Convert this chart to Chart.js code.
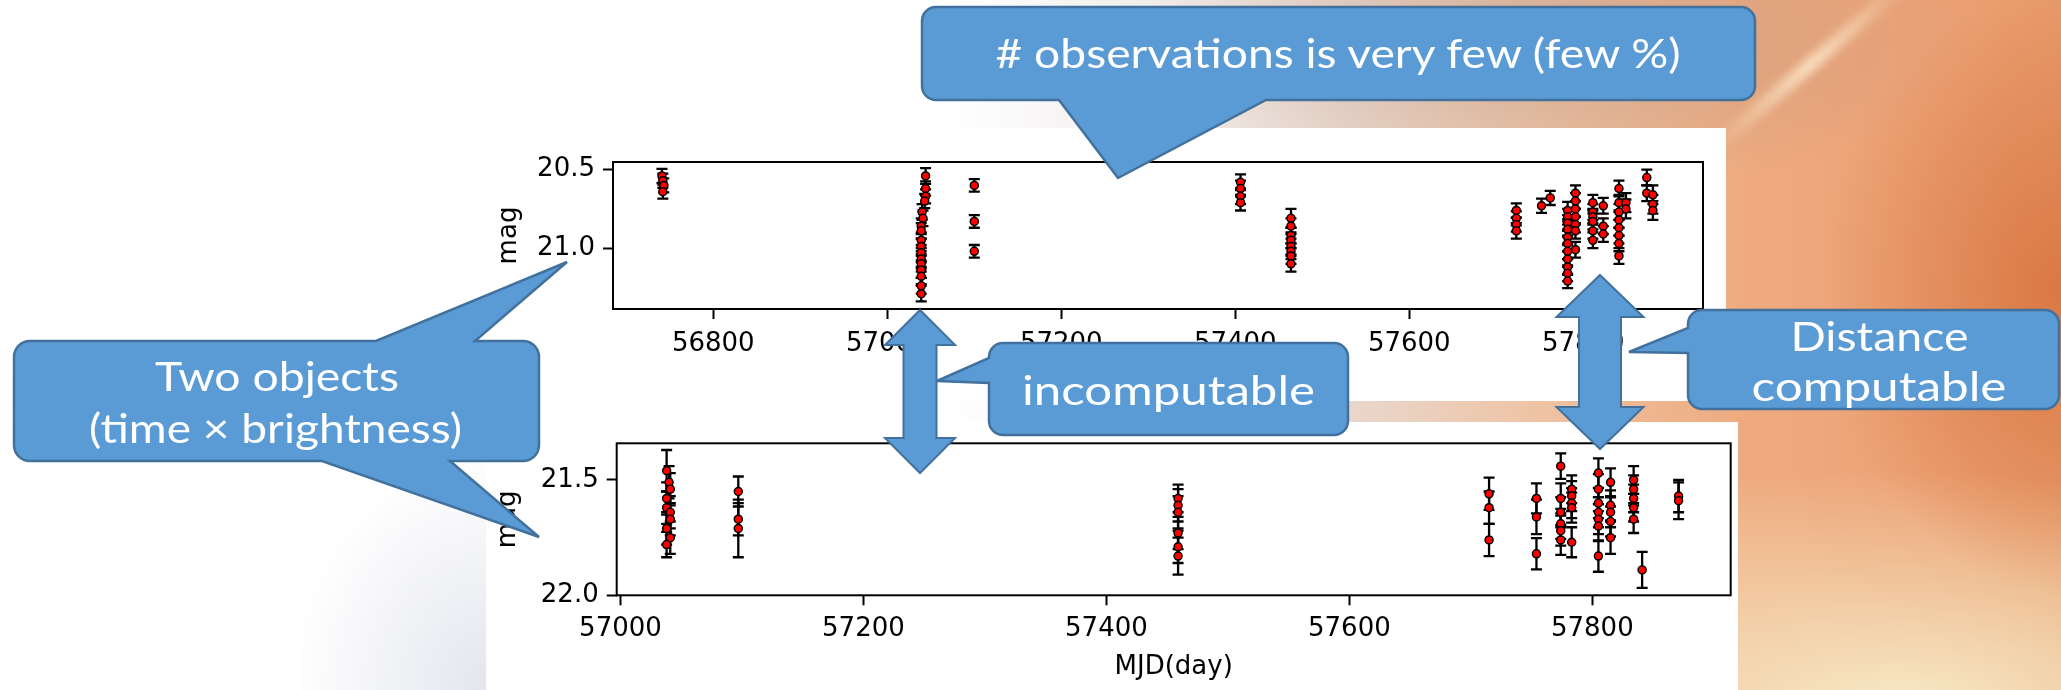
<!DOCTYPE html>
<html>
<head>
<meta charset="utf-8">
<script src="https://cdn.jsdelivr.net/npm/chart.js@4/dist/chart.umd.min.js"></script>
<style>
  html, body { margin: 0; padding: 0; width: 2061px; height: 690px; overflow: hidden; }
  body {
    position: relative;
    background:
      radial-gradient(ellipse 240px 300px at 2061px 290px, rgba(214,112,58,0.8), rgba(214,112,58,0) 100%),
      radial-gradient(ellipse 650px 230px at 1900px 700px, rgba(246,232,196,1), rgba(246,232,196,0) 100%),
      radial-gradient(ellipse 420px 150px at 1560px 40px, rgba(180,150,135,0.5), rgba(180,150,135,0) 100%),
      linear-gradient(to right, #ffffff 0px, #ffffff 950px, #f1edec 1150px, #e9d7cc 1350px, #efc2a2 1550px, #eeaa7e 1750px, #eba073 1950px, #e79a6a 2061px);
  }
  .shade { position: absolute; left: 300px; top: 440px; width: 190px; height: 250px;
    background: radial-gradient(ellipse 200px 240px at 190px 250px, rgba(226,228,236,0.95), rgba(226,228,236,0) 100%); }
  .streak { position: absolute; left: 1680px; top: 58px; width: 260px; height: 14px;
    transform: rotate(-41deg);
    background: linear-gradient(to right, rgba(255,232,195,0), rgba(255,236,205,0.8) 50%, rgba(255,232,195,0));
    filter: blur(4px); }
  .fig { position: absolute; background: #ffffff; }
  .fig canvas { display: block; }
  svg.overlay { position: absolute; left: 0; top: 0; pointer-events: none; }
  svg text { font-family: "Lato", "Open Sans", sans-serif; font-size: 40px; fill: #ffffff; }
</style>
</head>
<body>
<div class="shade"></div>
<div class="streak"></div>

<div class="fig" style="left:470px; top:128px; width:1256px; height:273px;">
  <canvas id="lcA" width="1256" height="273"></canvas>
</div>
<div class="fig" style="left:486px; top:422px; width:1252px; height:268px;">
  <canvas id="lcB" width="1252" height="268"></canvas>
</div>

<svg class="overlay" width="2061" height="690" viewBox="0 0 2061 690">
  <g fill="#5b9bd5" stroke="#41719c" stroke-width="2" stroke-linejoin="miter">
    <!-- double arrows between the two light curves -->
    <path d="M920,310 L955,345 L936.5,345 L936.5,438 L955,438 L920,473 L885,438 L903.5,438 L903.5,345 L885,345 Z"/>
    <path d="M1600,275 L1643.5,317 L1621,317 L1621,407 L1643.5,407 L1600,449 L1556.5,407 L1579,407 L1579,317 L1556.5,317 Z"/>
  </g>
  <g fill="#5b9bd5" stroke="#41719c" stroke-width="2.5" stroke-linejoin="miter">
    <!-- callouts -->
    <path d="M936,7 H1741 A14,14 0 0 1 1755,21 V86 A14,14 0 0 1 1741,100 H1266 L1118,178 L1059,100 H936 A14,14 0 0 1 922,86 V21 A14,14 0 0 1 936,7 Z"/>
    <path d="M30,341 H376 L567,262 L475,341 H523 A16,16 0 0 1 539,357 V445 A16,16 0 0 1 523,461 H450 L539,537 L322,461 H30 A16,16 0 0 1 14,445 V357 A16,16 0 0 1 30,341 Z"/>
    <path d="M1003,343 H1334 A14,14 0 0 1 1348,357 V421 A14,14 0 0 1 1334,435 H1003 A14,14 0 0 1 989,421 V383 L937,381 L989,358 V357 A14,14 0 0 1 1003,343 Z"/>
    <path d="M1702,310 H2045 A14,14 0 0 1 2059,324 V395 A14,14 0 0 1 2045,409 H1702 A14,14 0 0 1 1688,395 V353 L1629,352 L1688,328 V324 A14,14 0 0 1 1702,310 Z"/>
  </g>
  <g text-anchor="middle">
    <text x="1338" y="68" textLength="685" lengthAdjust="spacingAndGlyphs"># observations is very few (few %)</text>
    <text x="277" y="391" textLength="244" lengthAdjust="spacingAndGlyphs">Two objects</text>
    <text x="275.5" y="443" textLength="373" lengthAdjust="spacingAndGlyphs">(time × brightness)</text>
    <text x="1168.5" y="405" textLength="293" lengthAdjust="spacingAndGlyphs">incomputable</text>
    <text x="1879.5" y="351" textLength="178" lengthAdjust="spacingAndGlyphs">Distance</text>
    <text x="1879" y="401" textLength="255" lengthAdjust="spacingAndGlyphs">computable</text>
  </g>
</svg>

<script>
// ---- object A: observation epochs (MJD), magnitudes and 1-sigma errors ----
const objA_mjd = [
  56741, 56742, 56743, 56742,
  57044, 57044, 57044, 57043, 57040, 57041, 57039, 57039, 57039, 57039, 57039, 57039, 57039, 57039, 57039, 57039, 57039,
  57100, 57100, 57100,
  57406, 57406, 57406, 57406,
  57464, 57464, 57464, 57464, 57464, 57464, 57464, 57464,
  57723, 57723, 57723, 57723,
  57752,
  57762,
  57782, 57782, 57782, 57782, 57782, 57782, 57782, 57782, 57782, 57782, 57782,
  57791, 57791, 57791, 57791, 57791, 57791, 57791,
  57811, 57811, 57811, 57811, 57811, 57811,
  57823, 57823, 57823,
  57841, 57841, 57841, 57841, 57841, 57841, 57841, 57841,
  57849, 57849,
  57873, 57873,
  57880, 57880, 57880
];
const objA_mag = [
  20.54, 20.57, 20.60, 20.64,
  20.54, 20.62, 20.67, 20.70, 20.77, 20.81, 20.86, 20.89, 20.95, 20.99, 21.03, 21.07, 21.10, 21.14, 21.18, 21.24, 21.29,
  20.60, 20.83, 21.02,
  20.58, 20.62, 20.67, 20.71,
  20.81, 20.86, 20.92, 20.95, 20.99, 21.02, 21.05, 21.10,
  20.76, 20.81, 20.85, 20.89,
  20.73,
  20.68,
  20.76, 20.80, 20.84, 20.88, 20.93, 20.97, 21.02, 21.07, 21.12, 21.16, 21.21,
  20.65, 20.70, 20.75, 20.80, 20.85, 20.89, 21.01,
  20.71, 20.77, 20.80, 20.83, 20.89, 20.95,
  20.73, 20.86, 20.91,
  20.62, 20.71, 20.77, 20.82, 20.87, 20.92, 20.97, 21.05,
  20.71, 20.75,
  20.55, 20.65,
  20.66, 20.72, 20.76
];
const objA_err = [
  0.045, 0.045, 0.045, 0.045,
  0.05, 0.045, 0.045, 0.045, 0.05, 0.05, 0.05, 0.05, 0.05, 0.05, 0.05, 0.05, 0.05, 0.05, 0.05, 0.05, 0.05,
  0.04, 0.04, 0.04,
  0.05, 0.05, 0.05, 0.05,
  0.06, 0.05, 0.05, 0.05, 0.05, 0.05, 0.05, 0.05,
  0.045, 0.045, 0.045, 0.05,
  0.045,
  0.045,
  0.055, 0.05, 0.05, 0.05, 0.05, 0.05, 0.05, 0.05, 0.05, 0.05, 0.045,
  0.05, 0.05, 0.05, 0.05, 0.05, 0.05, 0.05,
  0.05, 0.05, 0.05, 0.05, 0.05, 0.05,
  0.05, 0.05, 0.05,
  0.05, 0.05, 0.05, 0.05, 0.05, 0.05, 0.05, 0.05,
  0.06, 0.06,
  0.05, 0.05,
  0.06, 0.06, 0.06
];

// ---- object B ----
const objB_mjd = [
  57038, 57040, 57041, 57038, 57038, 57041, 57041, 57038, 57041, 57038,
  57097, 57097, 57097,
  57459, 57459, 57459, 57459, 57459, 57459,
  57715, 57715, 57715,
  57754, 57754, 57754,
  57774, 57774, 57774, 57774, 57774, 57774,
  57783, 57783, 57783, 57783, 57783,
  57805, 57805, 57805, 57805, 57805, 57805, 57805,
  57815, 57815, 57815, 57815, 57815,
  57834, 57834, 57834, 57834, 57834,
  57841,
  57871, 57871
];
const objB_mag = [
  21.46, 21.51, 21.54, 21.58, 21.62, 21.64, 21.67, 21.71, 21.75, 21.78,
  21.55, 21.67, 21.71,
  21.58, 21.61, 21.64, 21.73, 21.79, 21.83,
  21.56, 21.62, 21.76,
  21.58, 21.66, 21.82,
  21.44, 21.58, 21.64, 21.69, 21.72, 21.76,
  21.54, 21.57, 21.60, 21.62, 21.77,
  21.47, 21.54, 21.60, 21.64, 21.67, 21.70, 21.83,
  21.51, 21.61, 21.64, 21.68, 21.75,
  21.50, 21.54, 21.58, 21.62, 21.67,
  21.89,
  21.57, 21.59
];
const objB_err = [
  0.09, 0.07, 0.07, 0.07, 0.07, 0.07, 0.07, 0.07, 0.07, 0.055,
  0.065, 0.07, 0.125,
  0.06, 0.07, 0.07, 0.07, 0.07, 0.08,
  0.07, 0.07, 0.07,
  0.065, 0.075, 0.068,
  0.055, 0.065, 0.065, 0.065, 0.065, 0.065,
  0.06, 0.065, 0.065, 0.065, 0.065,
  0.064, 0.065, 0.065, 0.065, 0.065, 0.065, 0.068,
  0.06, 0.065, 0.065, 0.065, 0.07,
  0.06, 0.06, 0.06, 0.06, 0.06,
  0.078,
  0.07, 0.08
];

// ---- axis ticks and ranges ----
const objA_xTicks = [56800, 57000, 57200, 57400, 57600, 57800];
const objA_yTicks = [20.5, 21.0];
const objA_xRange = [56684.7, 57937.6];
const objA_yRange = [20.451, 21.388];

const objB_xTicks = [57000, 57200, 57400, 57600, 57800];
const objB_yTicks = [21.5, 22.0];
const objB_xRange = [56996.9, 57913.9];
const objB_yRange = [21.341, 22.0];

const axisFont = { family: 'DejaVu Sans', size: 26 };

// vertical error bars with caps, drawn under the markers
const errorBars = {
  id: 'errorBars',
  beforeDatasetsDraw(chart) {
    const { ctx, scales: { x, y } } = chart;
    const cap = 5.5;
    ctx.save();
    ctx.strokeStyle = '#000000';
    ctx.lineWidth = 2.3;
    chart.data.datasets.forEach(ds => {
      if (!ds.errors) return;
      ds.data.forEach((p, i) => {
        const e = ds.errors[i];
        const px = x.getPixelForValue(p.x);
        const y1 = y.getPixelForValue(p.y - e);
        const y2 = y.getPixelForValue(p.y + e);
        ctx.beginPath();
        ctx.moveTo(px, y1); ctx.lineTo(px, y2);
        ctx.moveTo(px - cap, y1); ctx.lineTo(px + cap, y1);
        ctx.moveTo(px - cap, y2); ctx.lineTo(px + cap, y2);
        ctx.stroke();
      });
    });
    ctx.restore();
  }
};

// closed axes frame (all four spines)
const frame = {
  id: 'frame',
  afterDatasetsDraw(chart) {
    const { ctx, chartArea: a } = chart;
    ctx.save();
    ctx.strokeStyle = '#000000';
    ctx.lineWidth = 2;
    ctx.strokeRect(a.left, a.top, a.right - a.left, a.bottom - a.top);
    ctx.restore();
  }
};

function lightCurve(canvasId, mjd, mag, err, xRange, yRange, xTicks, yTicks, geom) {
  const points = mjd.map((t, i) => ({ x: t, y: mag[i] }));
  const tickGrid = { display: true, drawOnChartArea: false, drawTicks: true, tickLength: 10,
                     tickColor: '#000000', tickWidth: 2, color: '#000000' };
  return new Chart(document.getElementById(canvasId), {
    type: 'scatter',
    data: {
      datasets: [{
        data: points,
        errors: err,
        pointRadius: 4,
        pointHoverRadius: 4,
        pointBorderWidth: 1.5,
        pointBackgroundColor: '#ff0000',
        pointBorderColor: '#000000',
        showLine: false
      }]
    },
    options: {
      responsive: false,
      animation: false,
      devicePixelRatio: 1,
      layout: { padding: geom.padding },
      plugins: { legend: { display: false }, tooltip: { enabled: false } },
      scales: {
        x: {
          type: 'linear',
          min: xRange[0], max: xRange[1],
          afterBuildTicks: ax => { ax.ticks = xTicks.map(v => ({ value: v })); },
          afterFit: ax => { ax.height = geom.xHeight; },
          grid: tickGrid,
          border: { display: false },
          ticks: { color: '#000000', font: axisFont, padding: geom.xTickPad, maxRotation: 0,
                   autoSkip: false, callback: v => String(v) },
          title: geom.xTitle
            ? { display: true, text: geom.xTitle, color: '#000000', font: axisFont,
                padding: { top: 0, bottom: geom.xTitlePad } }
            : { display: false }
        },
        y: {
          type: 'linear',
          reverse: true,
          min: yRange[0], max: yRange[1],
          afterBuildTicks: ax => { ax.ticks = yTicks.map(v => ({ value: v })); },
          afterFit: ax => { ax.width = geom.yWidth; },
          grid: tickGrid,
          border: { display: false },
          ticks: { color: '#000000', font: { family: 'DejaVu Sans', size: 26, lineHeight: 1 },
                   padding: 8, autoSkip: false, callback: v => v.toFixed(1) },
          title: { display: true, text: 'mag', color: '#000000', font: axisFont,
                   padding: { top: geom.yTitlePad, bottom: 0 } }
        }
      }
    },
    plugins: [errorBars, frame]
  });
}

lightCurve('lcA', objA_mjd, objA_mag, objA_err, objA_xRange, objA_yRange, objA_xTicks, objA_yTicks, {
  padding: { top: 34, right: 23, bottom: 0, left: 0 },
  xHeight: 92, yWidth: 143, xTickPad: 10, yTitlePad: 24, xTitle: null
});

lightCurve('lcB', objB_mjd, objB_mag, objB_err, objB_xRange, objB_yRange, objB_xTicks, objB_yTicks, {
  padding: { top: 21.3, right: 7.3, bottom: 0, left: 0 },
  xHeight: 94.7, yWidth: 130.7, xTickPad: 8, yTitlePad: 7, xTitle: 'MJD(day)', xTitlePad: 7
});
</script>
</body>
</html>
